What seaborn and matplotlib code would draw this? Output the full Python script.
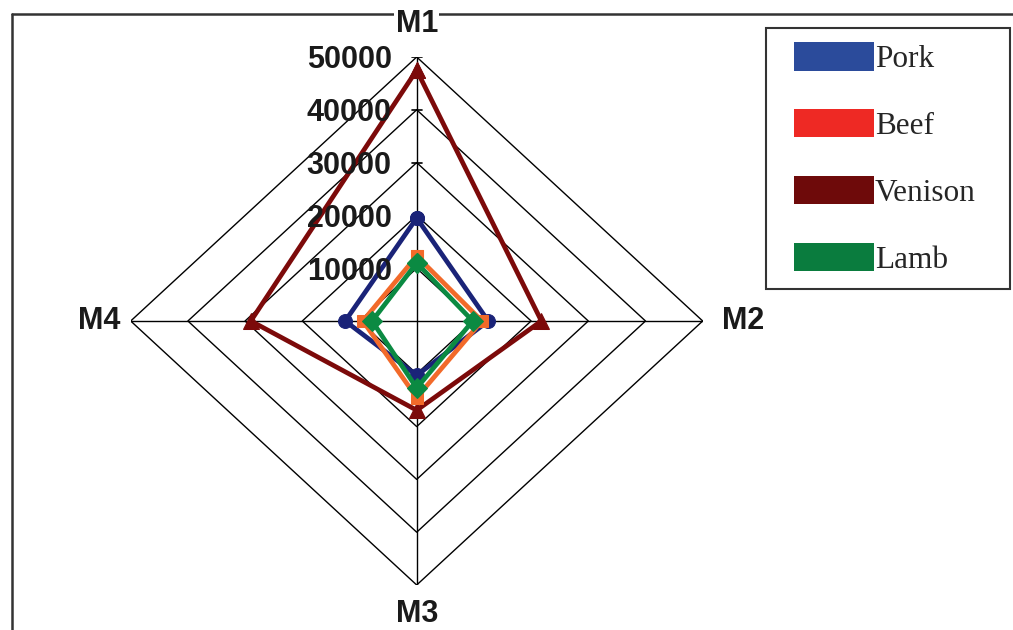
import numpy as np
import pandas as pd
import matplotlib
matplotlib.use("Agg")
import matplotlib.pyplot as plt
import seaborn as sns
from matplotlib.patches import Patch, Rectangle
from matplotlib.lines import Line2D
from matplotlib.legend_handler import HandlerPatch

# ---- data ----
axes_labels = ["M1", "M2", "M3", "M4"]
pork = [19500, 12500, 10300, 12500]
beef = [12300, 11400, 14500, 9400]
venison = [47500, 21800, 16900, 29000]
lamb = [11000, 9800, 12700, 7800]
series_names = ["Pork", "Beef", "Venison", "Lamb"]
tick_values = [10000, 20000, 30000, 40000, 50000]
tick_labels = ["10000", "20000", "30000", "40000", "50000"]

line_colors = {"Pork": "#1a2378", "Beef": "#f26a2a", "Venison": "#7c0a0a", "Lamb": "#0b8a42"}
legend_colors = {"Pork": "#2b4b9b", "Beef": "#ee2924", "Venison": "#6e0a0a", "Lamb": "#0a7c3e"}
markers = {"Pork": "o", "Beef": "s", "Venison": "^", "Lamb": "D"}
marker_sizes = {"Pork": 10, "Beef": 8, "Venison": 11, "Lamb": 10}

sns.set_style("white")
plt.rcParams["font.family"] = ["Liberation Sans", "DejaVu Sans"]

W, H = 1013, 630
fig = plt.figure(figsize=(W / 100, H / 100), dpi=100)
cx, cy = 416.7, 321.0
rx, ry = 286.0, 264.0
ax = fig.add_axes([(cx - rx) / W, (H - cy - ry) / H, 2 * rx / W, 2 * ry / H])
vmax = 50000
ax.set_xlim(-vmax, vmax)
ax.set_ylim(-vmax, vmax)
ax.axis("off")

theta = np.deg2rad([0, 90, 180, 270])
sx, sy = np.sin(theta), np.cos(theta)

# grid diamonds
for v in tick_values:
    gx = list(v * sx) + [v * sx[0]]
    gy = list(v * sy) + [v * sy[0]]
    ax.plot(gx, gy, color="black", lw=1.0, zorder=1)
# spokes
ax.plot([0, 0], [-vmax, vmax], color="black", lw=1.0, zorder=1)
ax.plot([-vmax, vmax], [0, 0], color="black", lw=1.0, zorder=1)
# ticks on M1 axis
for v in tick_values:
    ax.plot([-900, 900], [v, v], color="black", lw=1.2, zorder=1)

# series
data = {"Pork": pork, "Beef": beef, "Venison": venison, "Lamb": lamb}
for name in ["Pork", "Venison", "Beef", "Lamb"]:
    vals = np.array(data[name], dtype=float)
    xs = list(vals * sx) + [vals[0] * sx[0]]
    ys = list(vals * sy) + [vals[0] * sy[0]]
    df = pd.DataFrame({"x": xs, "y": ys})
    sns.lineplot(data=df, x="x", y="y", sort=False, estimator=None, ax=ax,
                 color=line_colors[name], lw=3.4, marker=markers[name],
                 markersize=marker_sizes[name], markeredgecolor=line_colors[name],
                 zorder=3, clip_on=False)

# tick labels
for v, t in zip(tick_values, tick_labels):
    ax.annotate(t, xy=(0, v), xytext=(-18, -2.5), textcoords="offset points",
                ha="right", va="center", fontsize=22, fontweight="bold",
                color="#1a1a1a", zorder=5, annotation_clip=False)

# axis labels
lab_pos = [(0, 56300), (57000, 0), (0, -55400), (-55500, 0)]
for (lx, ly), lab in zip(lab_pos, axes_labels):
    ax.text(lx, ly, lab, ha="center", va="center", fontsize=22, fontweight="bold",
            color="#1a1a1a", zorder=6, clip_on=False,
            bbox=dict(facecolor="white", edgecolor="none", pad=1.0))

# outer frame (partially visible)
fig.add_artist(Line2D([12 / W, 1.0], [1 - 14 / H, 1 - 14 / H], color="#333333", lw=1.8,
                      transform=fig.transFigure, zorder=0))
fig.add_artist(Line2D([12 / W, 12 / W], [0, 1 - 14 / H], color="#333333", lw=1.8,
                      transform=fig.transFigure, zorder=0))


# legend with patches offset to the right inside their handle box
def offset_patch(legend, orig_handle, xdescent, ydescent, width, height, fontsize):
    off = 10
    return Rectangle((-xdescent + off, -ydescent), width - off, height)


handles = [Patch(facecolor=legend_colors[n], edgecolor="none") for n in series_names]
fs = 22.5
fpx = fs * 100 / 72
leg = fig.legend(handles, series_names, loc="upper left",
                 bbox_to_anchor=(766 / W, 1 - 28 / H - 0.01, (1010 - 766) / W, 0.01),
                 mode="expand", borderaxespad=0,
                 prop={"family": "Liberation Serif", "size": fs},
                 frameon=True, fancybox=False, edgecolor="black",
                 handlelength=94 / fpx, handleheight=32 / fpx, handletextpad=0.03,
                 labelspacing=1.12, borderpad=0.45,
                 handler_map={Patch: HandlerPatch(patch_func=offset_patch)})
leg.get_frame().set_linewidth(1.5)
leg.set_zorder(10)

fig.savefig("out.png", dpi=100, facecolor="white")
